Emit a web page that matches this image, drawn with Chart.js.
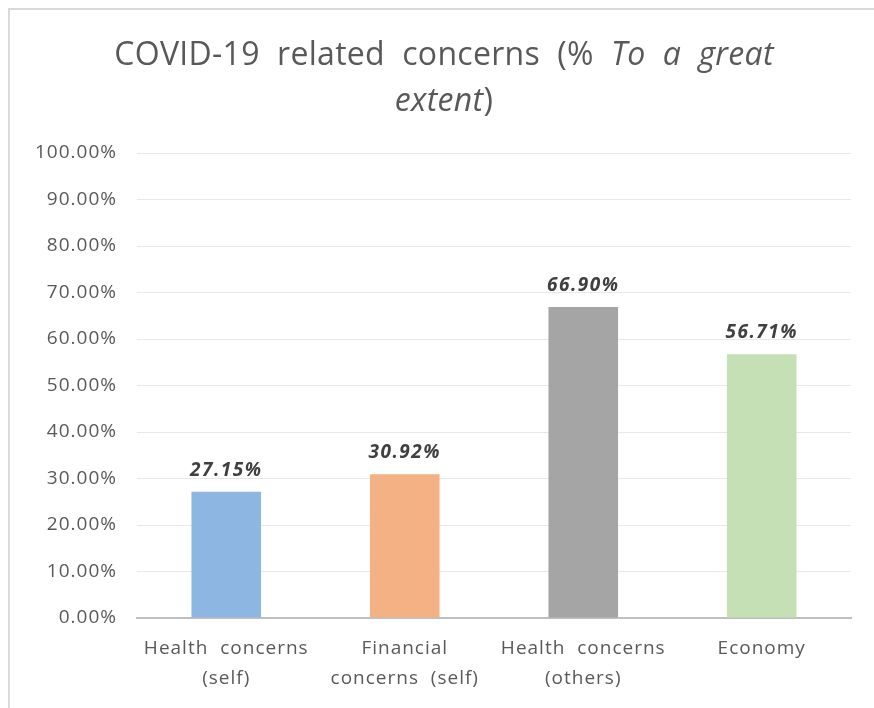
<!DOCTYPE html>
<html>
<head>
<meta charset="utf-8">
<script src="https://cdn.jsdelivr.net/npm/chart.js@4.4.0/dist/chart.umd.min.js"></script>
<style>
  html, body { margin: 0; padding: 0; background: #fff; }
  #wrap { width: 874px; height: 708px; position: relative; }
</style>
</head>
<body>
<div id="wrap"><canvas id="chart" width="874" height="708"></canvas></div>
<script>
const categories = [['Health  concerns', '(self)'], ['Financial', 'concerns  (self)'], ['Health  concerns', '(others)'], ['Economy']];
const values = [27.15, 30.92, 66.90, 56.71];
const barColors = ['#8DB7E2', '#F4B183', '#A5A5A5', '#C5E0B4'];
const yTicks = [0, 10, 20, 30, 40, 50, 60, 70, 80, 90, 100];

const FONT = "'Open Sans', 'Noto Sans', sans-serif";
const TEXT = '#595959';

// title with italic part + outer frame
const titlePlugin = {
  id: 'titlePlugin',
  beforeDraw(chart) {
    const ctx = chart.ctx;
    ctx.save();
    ctx.strokeStyle = '#d9d9d9';
    ctx.lineWidth = 2;
    ctx.beginPath();
    ctx.moveTo(9, 708);
    ctx.lineTo(9, 9);
    ctx.lineTo(874, 9);
    ctx.stroke();
    ctx.restore();
    ctx.letterSpacing = '1px';
  },
  afterDraw(chart) {
    const ctx = chart.ctx;
    ctx.save();
    ctx.fillStyle = TEXT;
    ctx.letterSpacing = '0.3px';
    ctx.textBaseline = 'alphabetic';
    const size = 32;
    const normal = size + 'px ' + FONT;
    const italic = 'italic ' + size + 'px ' + FONT;
    const line1 = [['COVID-19  related  concerns  (%  ', normal], ['To  a  great', italic]];
    const line2 = [['extent', italic], [')', normal]];
    const drawLine = (parts, y) => {
      let w = 0;
      parts.forEach(p => { ctx.font = p[1]; w += ctx.measureText(p[0]).width; });
      let x = 444 - w / 2;
      parts.forEach(p => { ctx.font = p[1]; ctx.fillText(p[0], x, y); x += ctx.measureText(p[0]).width; });
    };
    drawLine(line1, 65);
    drawLine(line2, 111);
    ctx.restore();
  }
};

// value labels above bars
const valueLabels = {
  id: 'valueLabels',
  afterDatasetsDraw(chart) {
    const ctx = chart.ctx;
    const meta = chart.getDatasetMeta(0);
    ctx.save();
    ctx.font = 'italic bold 19px ' + FONT;
    ctx.letterSpacing = '1.5px';
    ctx.fillStyle = '#404040';
    ctx.textAlign = 'center';
    ctx.textBaseline = 'bottom';
    meta.data.forEach((bar, i) => {
      ctx.fillText(values[i].toFixed(2) + '%', bar.x, bar.y - 12);
    });
    ctx.restore();
  }
};

new Chart(document.getElementById('chart'), {
  type: 'bar',
  data: {
    labels: categories,
    datasets: [{
      data: values,
      backgroundColor: barColors,
      borderWidth: 0,
      categoryPercentage: 1,
      barPercentage: 0.39
    }]
  },
  options: {
    responsive: false,
    animation: false,
    layout: { padding: { top: 153, right: 23, left: 0, bottom: 0 } },
    plugins: {
      legend: { display: false },
      title: { display: false },
      tooltip: { enabled: false }
    },
    scales: {
      x: {
        grid: { display: false, drawTicks: false },
        border: { color: '#bfbfbf', width: 2 },
        ticks: {
          color: TEXT,
          font: { family: FONT, size: 19, lineHeight: 1.6 },
          padding: 15,
          maxRotation: 0,
          autoSkip: false
        },
        afterFit(scale) { scale.height = 90; }
      },
      y: {
        min: 0,
        max: 100,
        afterBuildTicks(scale) { scale.ticks = yTicks.map(v => ({ value: v })); },
        grid: { color: '#e8e8e8', lineWidth: 1, drawTicks: false },
        border: { display: false },
        ticks: {
          color: TEXT,
          font: { family: FONT, size: 19 },
          padding: 20,
          callback: v => v.toFixed(2) + '%'
        },
        afterFit(scale) { scale.width = 137; }
      }
    }
  },
  plugins: [titlePlugin, valueLabels]
});
</script>
</body>
</html>
